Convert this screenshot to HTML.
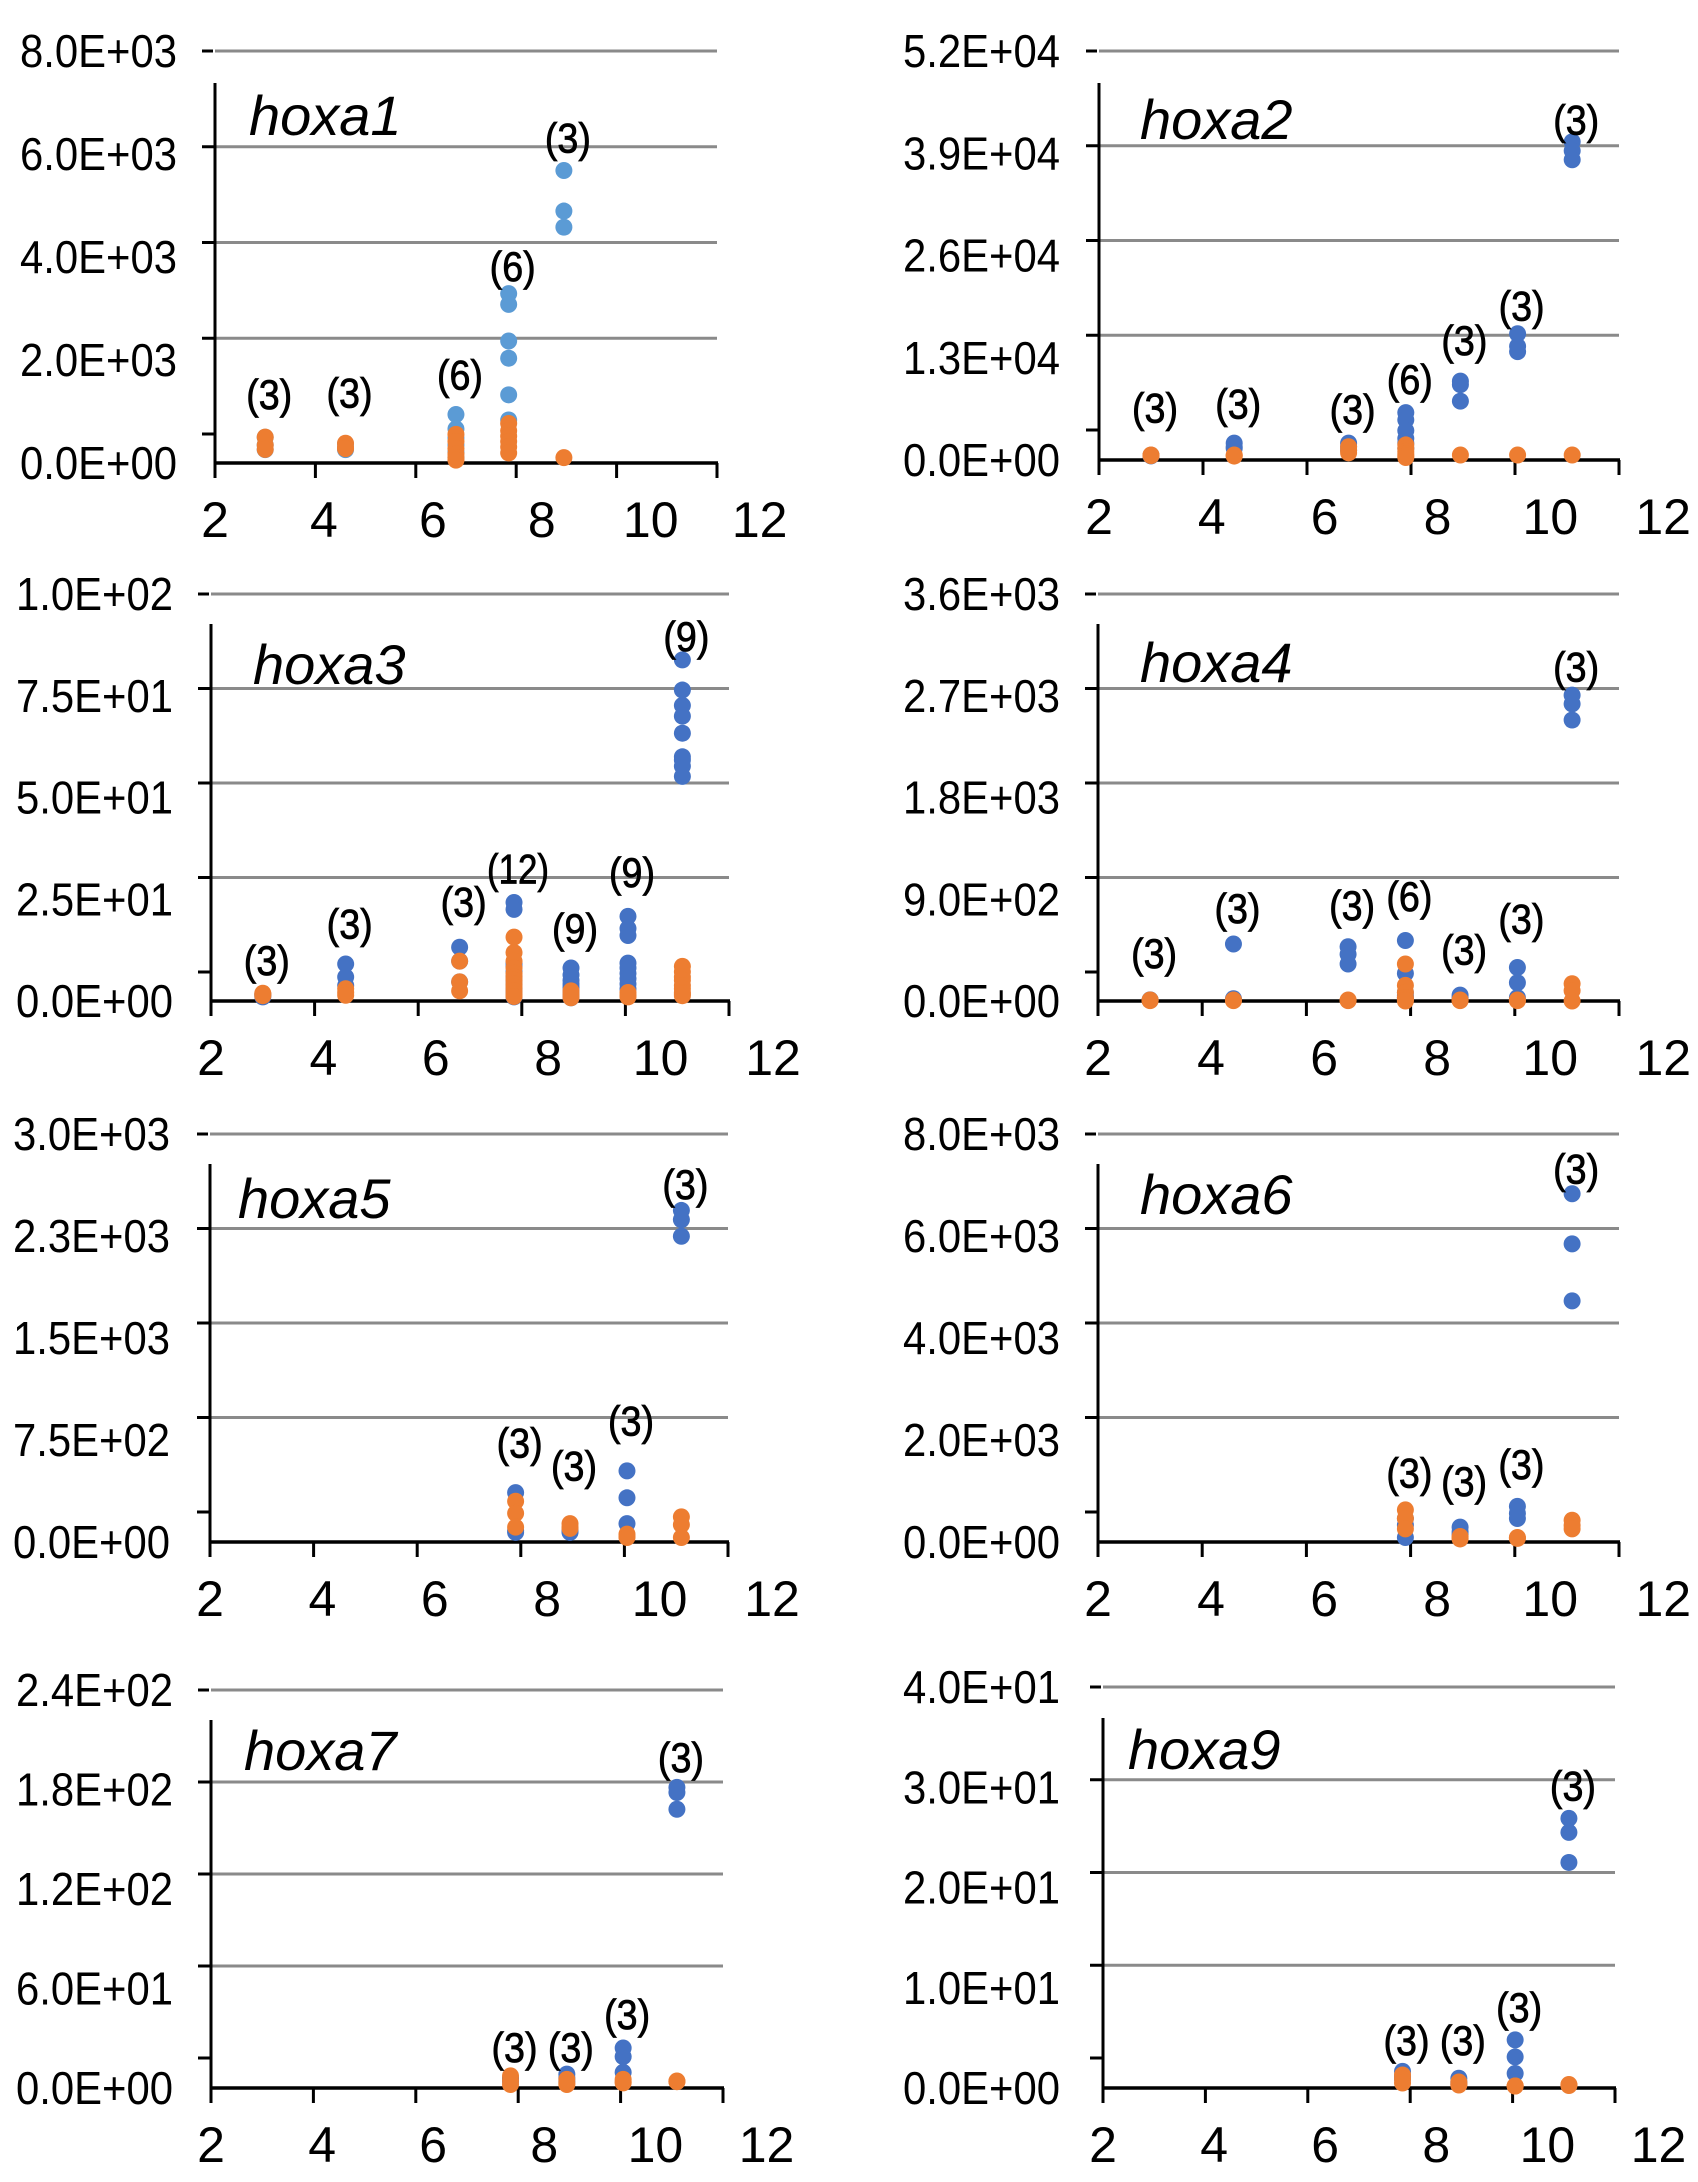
<!DOCTYPE html>
<html><head><meta charset="utf-8"><style>
html,body{margin:0;padding:0;background:#fff;}
svg{display:block;}
text{font-family:"Liberation Sans",Arial,sans-serif;fill:#000;}
</style></head>
<body>
<svg id="fig" width="1698" height="2182" viewBox="0 0 1698 2182" xmlns="http://www.w3.org/2000/svg"></svg>
<script>
// ---------- data (x = stage category, values per sample) ----------
const xTickLabels = ["2","4","6","8","10","12"];
const panelTitles = ["hoxa1","hoxa2","hoxa3","hoxa4","hoxa5","hoxa6","hoxa7","hoxa9"];
const yTickLabels = [
  ["0.0E+00","2.0E+03","4.0E+03","6.0E+03","8.0E+03"],
  ["0.0E+00","1.3E+04","2.6E+04","3.9E+04","5.2E+04"],
  ["0.0E+00","2.5E+01","5.0E+01","7.5E+01","1.0E+02"],
  ["0.0E+00","9.0E+02","1.8E+03","2.7E+03","3.6E+03"],
  ["0.0E+00","7.5E+02","1.5E+03","2.3E+03","3.0E+03"],
  ["0.0E+00","2.0E+03","4.0E+03","6.0E+03","8.0E+03"],
  ["0.0E+00","6.0E+01","1.2E+02","1.8E+02","2.4E+02"],
  ["0.0E+00","1.0E+01","2.0E+01","3.0E+01","4.0E+01"]
];
const yMax = [8000, 52000, 100, 3600, 3000, 8000, 240, 40];

const hoxa1Blue = [[3.0,[500,350,260]],[4.6,[370,290,260]],[6.8,[941,662,488,350,210,105]],[7.85,[3289,3080,2369,2035,1324,836]],[8.95,[5680,4892,4579]]];
const hoxa1Orange = [[3.0,[502,348,265]],[4.6,[383,300,279]],[6.8,[557,418,279,174,105,56]],[7.85,[767,627,523,418,314,195]],[8.95,[105]]];
const hoxa2Blue = [[3.0,[600,560,520]],[4.6,[2144,1688,1460]],[6.8,[2144,1688,1232]],[7.9,[6021,5108,3740,2737,2144,1460]],[8.95,[10034,9578,7480]],[10.05,[16055,14459,13775]],[11.1,[40456,39316,38176]]];
const hoxa2Orange = [[3.0,[639,600,560]],[4.6,[639,560,500]],[6.8,[1688,1232,912]],[7.9,[1916,1460,1095,775,547,319]],[8.95,[639]],[10.05,[639]],[11.1,[639]]];
const hoxa3Blue = [[3.0,[1.7,1.4,1.0]],[4.6,[9.1,5.9,3.8]],[6.8,[13.2,9.8,4.7]],[7.85,[24.2,22.5,9.3,8.5,7.2,6.0,5.0,4.0,3.0,2.2,1.5,1.0]],[8.95,[8.1,6.4,5.1,4.2,3.4,2.5,1.7,1.2,0.8]],[10.05,[20.8,17.8,16.1,9.3,8.1,6.8,5.5,4.2,3.0]],[11.1,[83.8,76.4,72.6,70.0,65.8,60.0,59.2,57.7,55.2]]];
const hoxa3Orange = [[3.0,[1.9,1.7,1.3]],[4.6,[3.0,2.1,1.4]],[6.8,[9.8,4.7,2.5]],[7.85,[15.7,11.9,9.8,8.1,6.8,5.9,5.1,4.2,3.4,2.5,1.7,1.1]],[8.95,[2.5,1.7,0.8]],[10.05,[2.1,1.4,1.0]],[11.1,[8.5,7.2,5.9,5.1,3.8,3.0,2.1,1.7,1.3]]];
const hoxa4Blue = [[3.0,[10,8,6]],[4.6,[504,20,10]],[6.8,[480,413,327]],[7.9,[535,244,76,50,30,15]],[8.95,[52,30,15]],[10.05,[296,162,30]],[11.1,[2705,2628,2485]]];
const hoxa4Orange = [[3.0,[9,6,3]],[4.6,[9,6,3]],[6.8,[9,6,3]],[7.9,[327,138,76,30,9,0]],[8.95,[9,6,3]],[10.05,[9,6,3]],[11.1,[153,92,0]]];
const hoxa5Blue = [[7.9,[363,71,84]],[8.95,[71,80,90]],[10.05,[523,325,135]],[11.1,[2438,2370,2248]]];
const hoxa5Orange = [[7.9,[300,211,109]],[8.95,[135,109,100]],[10.05,[58,41,33]],[11.1,[185,127,33]]];
const hoxa6Blue = [[7.9,[88,330,460]],[8.95,[291,200,150]],[10.05,[698,562,461]],[11.1,[6828,5846,4728]]];
const hoxa6Orange = [[7.9,[630,461,257]],[8.95,[108,80,60]],[10.05,[88,80,70]],[11.1,[427,325,257]]];
const hoxa7Blue = [[7.85,[6.0,5.0,4.0]],[8.95,[8.4,6.0,4.0]],[10.05,[24.1,18.9,9.4]],[11.1,[181.3,178.2,168.1]]];
const hoxa7Orange = [[7.85,[7.3,4.6,2.1]],[8.95,[5.2,3.1,2.1]],[10.05,[5.2,3.8,3.1]],[11.1,[4.2,4.0,3.8]]];
const hoxa9Blue = [[7.85,[1.66,1.2,0.9]],[8.95,[0.97,0.6,0.4]],[10.05,[4.8,3.1,1.45]],[11.1,[26.9,25.5,22.5]]];
const hoxa9Orange = [[7.85,[1.3,0.9,0.5]],[8.95,[0.6,0.35,0.3]],[10.05,[0.2,0.2,0.2]],[11.1,[0.35,0.3,0.25]]];

// count labels: [x, label, baseline position in data units]
const hoxa1Counts = [[3.0,"(3)",1045],[4.6,"(3)",1080],[6.8,"(6)",1429],[7.85,"(6)",3533],[8.95,"(3)",6028]];
const hoxa2Counts = [[3.0,"(3)",4789],[4.6,"(3)",5245],[6.8,"(3)",4561],[7.9,"(6)",8392],[8.95,"(3)",13318],[10.05,"(3)",17742],[11.1,"(3)",41369]];
const hoxa3Counts = [[3.0,"(3)",6.4],[4.6,"(3)",15.3],[6.8,"(3)",20.8],[7.85,"(12)",28.9],[8.95,"(9)",14.2],[10.05,"(9)",28.0],[11.1,"(9)",86]];
const hoxa4Counts = [[3.0,"(3)",290],[4.6,"(3)",688],[6.8,"(3)",718],[7.9,"(6)",795],[8.95,"(3)",321],[10.05,"(3)",596],[11.1,"(3)",2827]];
const hoxa5Counts = [[7.9,"(3)",620],[8.95,"(3)",452],[10.05,"(3)",782],[11.1,"(3)",2521]];
const hoxa6Counts = [[7.9,"(3)",1070],[8.95,"(3)",901],[10.05,"(3)",1240],[11.1,"(3)",7032]];
const hoxa7Counts = [[7.85,"(3)",15.7],[8.95,"(3)",15.7],[10.05,"(3)",35.6],[11.1,"(3)",190.7]];
const hoxa9Counts = [[7.85,"(3)",3.3],[8.95,"(3)",3.3],[10.05,"(3)",6.6],[11.1,"(3)",28.7]];

const blueSeries = [hoxa1Blue,hoxa2Blue,hoxa3Blue,hoxa4Blue,hoxa5Blue,hoxa6Blue,hoxa7Blue,hoxa9Blue];
const orangeSeries = [hoxa1Orange,hoxa2Orange,hoxa3Orange,hoxa4Orange,hoxa5Orange,hoxa6Orange,hoxa7Orange,hoxa9Orange];
const countSeries = [hoxa1Counts,hoxa2Counts,hoxa3Counts,hoxa4Counts,hoxa5Counts,hoxa6Counts,hoxa7Counts,hoxa9Counts];

// ---------- layout (pixels) ----------
const layouts = [
  {ax:215,ax12:717,yTop:51,yTick:434,yAxis:463,vTop:83,lblR:177,tx:249,ty:135,blue:"#5B9BD5"},
  {ax:1099,ax12:1619,yTop:51,yTick:430,yAxis:460,vTop:83,lblR:1060,tx:1140,ty:139,blue:"#4472C4"},
  {ax:211,ax12:729,yTop:594,yTick:972,yAxis:1001,vTop:624,lblR:173,tx:253,ty:684,blue:"#4472C4"},
  {ax:1098,ax12:1619,yTop:594,yTick:972,yAxis:1001,vTop:624,lblR:1060,tx:1140,ty:682,blue:"#4472C4"},
  {ax:210,ax12:728,yTop:1134,yTick:1512,yAxis:1542,vTop:1164,lblR:170,tx:238,ty:1218,blue:"#4472C4"},
  {ax:1098,ax12:1619,yTop:1134,yTick:1512,yAxis:1542,vTop:1164,lblR:1060,tx:1140,ty:1214,blue:"#4472C4"},
  {ax:211,ax12:723,yTop:1690,yTick:2058,yAxis:2088,vTop:1720,lblR:173,tx:244,ty:1770,blue:"#4472C4"},
  {ax:1103,ax12:1615,yTop:1687,yTick:2058,yAxis:2088,vTop:1718,lblR:1060,tx:1128,ty:1769,blue:"#4472C4"}
];
const ORANGE = "#ED7D31";
const NS = "http://www.w3.org/2000/svg";
const svg = document.getElementById("fig");

function mk(tag, attrs, parent){
  const e = document.createElementNS(NS, tag);
  for (const k in attrs) e.setAttribute(k, attrs[k]);
  parent.appendChild(e);
  return e;
}

layouts.forEach((L, p) => {
  const g = mk("g", {}, svg);
  
  
  const xScale = v => L.ax + (v - 2) / 10 * (L.ax12 - L.ax);
  const yScale = v => L.yAxis - v / yMax[p] * (L.yAxis - L.yTop);
  const gridStep = (L.yTick - L.yTop) / 4;

  for (let i = 0; i < 4; i++) {
    const y = L.yTop + i * gridStep;
    const gl = mk("line", {x1:L.ax, x2:L.ax12, y1:y, y2:y, stroke:"#8a8a8a","stroke-width":3}, g);
    
    
    const tk = mk("line", {x1:L.ax-13, x2:i===0?L.ax-2:L.ax, y1:y, y2:y, stroke:"#000","stroke-width":3}, g);
    
    
  }
  const zt = mk("line", {x1:L.ax-13, x2:L.ax, y1:L.yTick, y2:L.yTick, stroke:"#000","stroke-width":3}, g);
  
  

  const ya = mk("line", {x1:L.ax, x2:L.ax, y1:L.vTop, y2:L.yAxis+1, stroke:"#000","stroke-width":3}, g);
  
  
  const xa = mk("line", {x1:L.ax, x2:L.ax12+1, y1:L.yAxis, y2:L.yAxis, stroke:"#000","stroke-width":3.5}, g);
  
  

  xTickLabels.forEach((lab, i) => {
    const v = 2 + i * 2;
    const x = xScale(v);
    const t = mk("line", {x1:x, x2:x, y1:L.yAxis, y2:L.yAxis+15, stroke:"#000","stroke-width":3}, g);
    
    
    const lx = L.ax + (x - L.ax) * 1.085;
    const tx = mk("text", {x:lx, y:L.yAxis+74, "font-size":50, "text-anchor":"middle"}, g);
    tx.textContent = lab;
    
    
  });

  yTickLabels[p].forEach((lab, i) => {
    const y = L.yAxis - i * (L.yAxis - L.yTop) / 4;
    const tx = mk("text", {x:L.lblR, y:y+16, "font-size":46, "text-anchor":"end", "textLength":157, "lengthAdjust":"spacingAndGlyphs"}, g);
    tx.textContent = lab;
    
    
  });

  const tt = mk("text", {x:L.tx, y:L.ty, "font-size":56, "font-style":"italic"}, g);
  tt.textContent = panelTitles[p];
  
  

  blueSeries[p].forEach(grp => {
    grp[1].forEach(v => {
      const c = mk("circle", {cx:xScale(grp[0]), cy:yScale(v), r:8.5, fill:L.blue}, g);
      
      
    });
  });
  orangeSeries[p].forEach(grp => {
    grp[1].forEach(v => {
      const c = mk("circle", {cx:xScale(grp[0]), cy:yScale(v), r:8.5, fill:ORANGE}, g);
      
      
    });
  });

  countSeries[p].forEach(c => {
    const w = c[1].length > 3 ? 62 : 46;
    const t = mk("text", {x:xScale(c[0])+4, y:yScale(c[2]), "font-size":42, "text-anchor":"middle", "textLength":w, "lengthAdjust":"spacingAndGlyphs", "stroke":"#000", "stroke-width":0.8}, g);
    t.textContent = c[1];
    
    
  });
});
</script>
</body></html>
